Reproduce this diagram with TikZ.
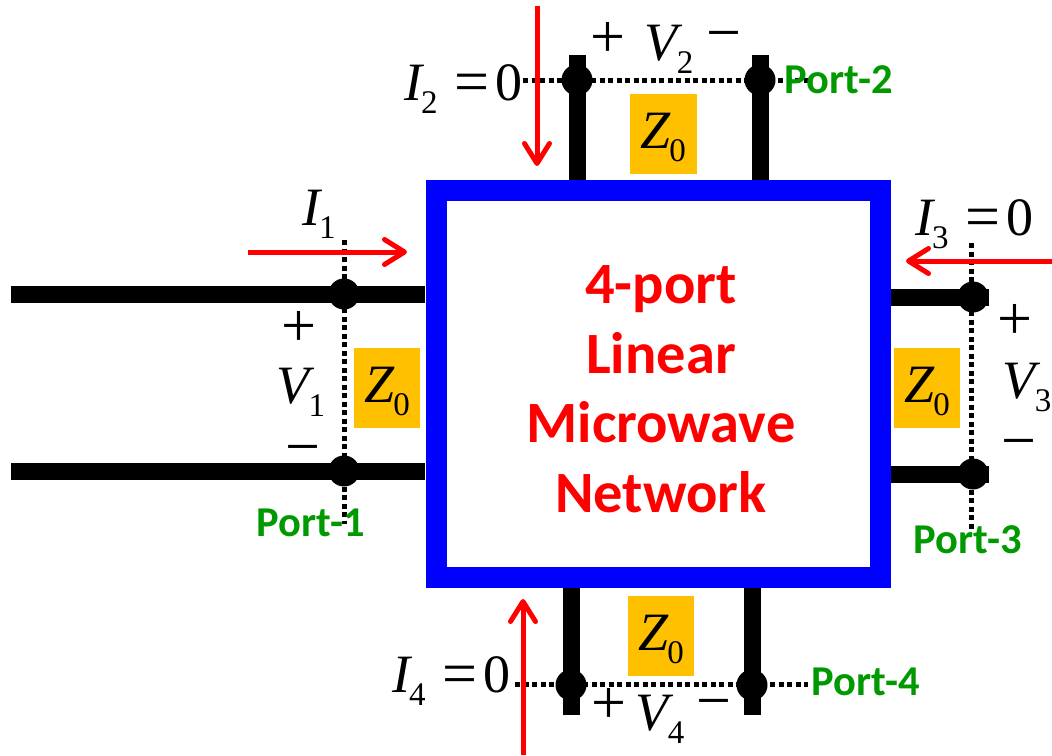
\documentclass[tikz,border=0pt]{standalone}
\usepackage{fontspec}
\setmainfont{Liberation Serif}
\newfontfamily\labelfont{Carlito}
\usetikzlibrary{arrows.meta}
\definecolor{framecol}{HTML}{0000FF}
\definecolor{zcol}{HTML}{FFC000}
\definecolor{portcol}{HTML}{009900}
\newcommand{\bigf}{\fontsize{54}{54}\selectfont}
\newcommand{\signf}{\fontsize{62}{62}\selectfont}
\newcommand{\subf}{\fontsize{33}{33}\selectfont}
\newcommand{\qty}[2]{{\bigf\itshape #1}\kern-1pt\raisebox{-13pt}{\subf #2}}
\newcommand{\zeq}{\kern17pt\raisebox{-2pt}{\signf =}\kern6pt{\bigf 0}}
\tikzset{
  x=1pt,y=-1pt,
  wire/.style={line width=17pt,black},
  probe/.style={line width=5pt,black,dash pattern=on 5pt off 3.5pt},
  junction/.style={circle,fill=black,inner sep=0pt,minimum size=31pt},
  current/.style={line width=5pt,red,-{Straight Barb[length=20pt,width=25pt,line width=5pt,round]}},
  zbox/.style={fill=zcol,inner sep=0pt,minimum width=66pt,minimum height=80pt},
  netframe/.style={draw=framecol,line width=21pt,inner sep=0pt,minimum width=444pt,minimum height=387pt},
  sym/.style={inner sep=0pt,anchor=base},
  port/.style={inner sep=0pt,anchor=base,text=portcol,font=\labelfont\bfseries\fontsize{42.5}{42.5}\selectfont},
  title/.style={inner sep=0pt,align=center,text=red,font=\labelfont\bfseries\fontsize{58.5}{69.5}\selectfont}
}
\begin{document}
\begin{tikzpicture}
\path[use as bounding box] (0,0) rectangle (1052,755);
% junctions
\node[junction] (d1a) at (344,294) {};
\node[junction] (d1b) at (344,471) {};
\node[junction] (d2a) at (577,80) {};
\node[junction] (d2b) at (760,80) {};
\node[junction] (d3a) at (973,297) {};
\node[junction] (d3b) at (973,474) {};
\node[junction] (d4a) at (571,685) {};
\node[junction] (d4b) at (752,685) {};
% free ends
\coordinate (w1a) at (11,294);
\coordinate (w1b) at (11,471);
\coordinate (w2a) at (577,55);
\coordinate (w2b) at (760,55);
\coordinate (w3a) at (989,297);
\coordinate (w3b) at (989,474);
\coordinate (w4a) at (571,715);
\coordinate (w4b) at (752,715);
\coordinate (p1a) at (344,240);
\coordinate (p1b) at (344,524);
\coordinate (p2a) at (523,80);
\coordinate (p2b) at (812,80);
\coordinate (p3a) at (971,243);
\coordinate (p3b) at (971,530);
\coordinate (p4a) at (515,684);
\coordinate (p4b) at (808,684);
\coordinate (c1a) at (248,252);
\coordinate (c1b) at (407,252);
\coordinate (c2a) at (537,6);
\coordinate (c2b) at (537,166);
\coordinate (c3a) at (1052,261);
\coordinate (c3b) at (906,261);
\coordinate (c4a) at (523,755);
\coordinate (c4b) at (523,599);
% frame placement
\coordinate (fc) at (658,384);
\path (fc) node[minimum width=465pt,minimum height=408pt,inner sep=0pt] (fo) {};
% wires
\draw[wire] (w1a) -- (d1a.center) -- (d1a.center -| fo.west);
\draw[wire] (w1b) -- (d1b.center) -- (d1b.center -| fo.west);
\draw[wire] (w2a) -- (d2a.center) -- (d2a.center |- fo.north);
\draw[wire] (w2b) -- (d2b.center) -- (d2b.center |- fo.north);
\draw[wire] (w3a) -- (d3a.center) -- (d3a.center -| fo.east);
\draw[wire] (w3b) -- (d3b.center) -- (d3b.center -| fo.east);
\draw[wire] (w4a) -- (d4a.center) -- (d4a.center |- fo.south);
\draw[wire] (w4b) -- (d4b.center) -- (d4b.center |- fo.south);
% probes
\draw[probe] (p1a) -- (p1b);
\draw[probe] (p2a) -- (p2b);
\draw[probe] (p3a) -- (p3b);
\draw[probe] (p4a) -- (p4b);
% frame
\node[netframe] (net) at (fc) {};
\node[title] (nettext) at (661,389) {4-port\\Linear\\Microwave\\Network};
% impedance boxes
\node[zbox] (z1) at (387,388) {};
\node[zbox,minimum width=67pt] (z2) at (663,134) {};
\node[zbox] (z3) at (927,388) {};
\node[zbox] (z4) at (661,636) {};
\node[sym] at (387,402) {\qty{Z}{0}};
\node[sym] at (663,148) {\qty{Z}{0}};
\node[sym] at (927,402) {\qty{Z}{0}};
\node[sym] at (661,650) {\qty{Z}{0}};
% currents
\draw[current] (c1a) -- (c1b);
\draw[current] (c2a) -- (c2b);
\draw[current] (c3a) -- (c3b);
\draw[current] (c4a) -- (c4b);
% labels port 1
\node[sym] at (319,225) {\qty{I}{1}};
\node[sym] at (299,346) {\signf +};
\node[sym] at (301,403) {\qty{V}{1}};
\node[sym] at (303,467) {\signf −};
\node[port] at (311,536) {Port-1};
% labels port 2
\node[sym,anchor=base west] at (404,100) {\qty{I}{2}\zeq};
\node[sym] at (608,57) {\signf +};
\node[sym] at (669,60) {\qty{V}{2}};
\node[sym] at (724,53) {\signf −};
\node[port] at (839,93) {Port-2};
% labels port 3
\node[sym,anchor=base west] at (915,235) {\qty{I}{3}\zeq};
\node[sym] at (1015,339) {\signf +};
\node[sym] at (1027,398) {\qty{V}{3}};
\node[sym] at (1019,461) {\signf −};
\node[port] at (968,553) {Port-3};
% labels port 4
\node[sym,anchor=base west] at (392,692) {\qty{I}{4}\zeq};
\node[sym] at (609,723) {\signf +};
\node[sym] at (660,730) {\qty{V}{4}};
\node[sym] at (714,721) {\signf −};
\node[port] at (866,695) {Port-4};
\end{tikzpicture}
\end{document}
